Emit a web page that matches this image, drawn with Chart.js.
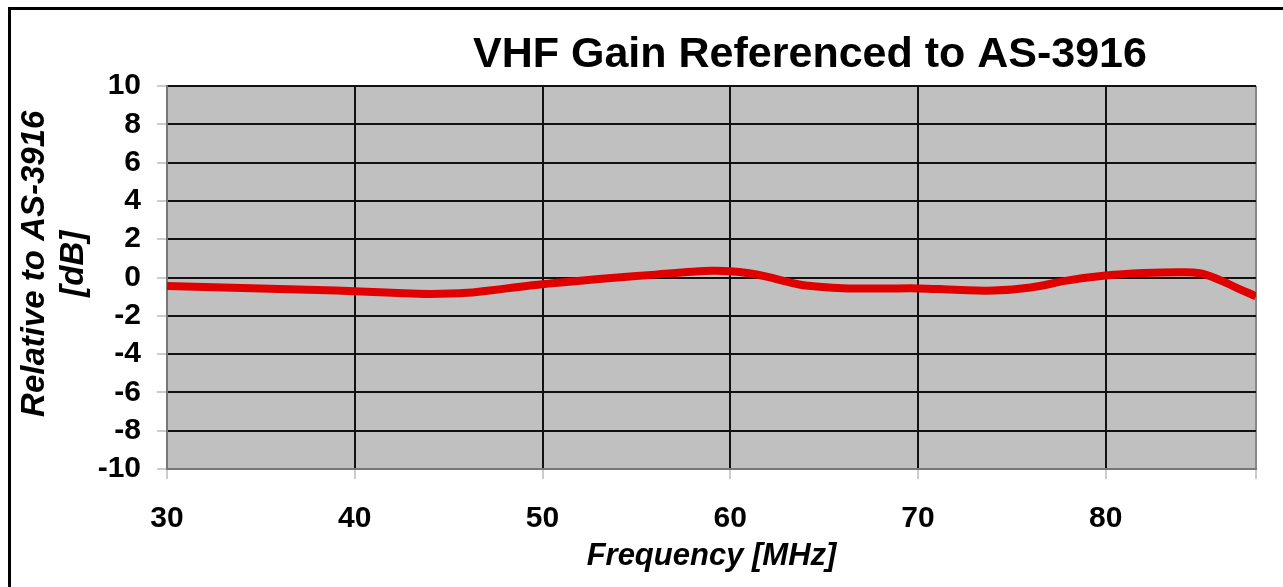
<!DOCTYPE html>
<html>
<head>
<meta charset="utf-8">
<script src="https://cdn.jsdelivr.net/npm/chart.js@4"></script>
<style>
  html, body { margin: 0; padding: 0; background: #fff; overflow: hidden; }
  #frame { position: absolute; left: 8px; top: 7px; width: 1290px; height: 600px; border: 3px solid #000; }
  #wrap { position: absolute; left: 0; top: 0; width: 1283px; height: 587px; }
</style>
</head>
<body>
<div id="frame"></div>
<div id="wrap"><canvas id="gainChart" width="1283" height="587"></canvas></div>
<script>
// frequency in MHz, gain relative to AS-3916 in dB
var freq = [30, 32, 34, 36, 38, 40, 42, 44, 46, 48, 50, 52, 54, 56, 58, 59, 60, 61, 62, 63, 64, 66, 68, 70, 72, 74, 76, 78, 80, 82, 84, 85, 86, 87, 88];
var gain = [-0.45, -0.5, -0.55, -0.6, -0.65, -0.72, -0.8, -0.86, -0.8, -0.58, -0.35, -0.17, 0.0, 0.15, 0.3, 0.35, 0.33, 0.22, 0.03, -0.22, -0.42, -0.56, -0.58, -0.57, -0.64, -0.68, -0.52, -0.15, 0.1, 0.23, 0.28, 0.22, -0.1, -0.55, -0.98];
var xTicks = [30, 40, 50, 60, 70, 80];
var chartTitle = 'VHF Gain Referenced to AS-3916';
var yTitle = ['   Relative to AS-3916', '   [dB]'];
var xTitle = 'Frequency [MHz]';

var fontFamily = '"Liberation Sans", Arial, sans-serif';

var plotBg = {
    id: 'plotBg',
    beforeDraw: function(chart) {
        var a = chart.chartArea, c = chart.ctx;
        c.save();
        c.fillStyle = '#c0c0c0';
        c.fillRect(a.left, a.top, a.right - a.left, a.bottom - a.top);
        c.restore();
    },
    afterDraw: function(chart) {
        var c = chart.ctx;
        c.save();
        c.font = 'bold 43px ' + fontFamily;
        c.fillStyle = '#000';
        c.textAlign = 'center';
        c.textBaseline = 'alphabetic';
        c.fillText(chartTitle, 810, 67);
        c.restore();
    }
};

var ctx = document.getElementById('gainChart').getContext('2d');
var gainChart = new Chart(ctx, {
    type: 'line',
    data: {
        datasets: [{
            data: freq.map(function(f, i) { return {x: f, y: gain[i]}; }),
            borderColor: '#e00000',
            borderWidth: 8,
            pointRadius: 0,
            tension: 0.4,
            fill: false
        }]
    },
    options: {
        responsive: false,
        animation: false,
        layout: { padding: { left: 0, top: 86, right: 27, bottom: 0 } },
        plugins: { legend: { display: false }, tooltip: { enabled: false } },
        scales: {
            x: {
                type: 'linear',
                min: 30,
                max: 88,
                afterFit: function(s) { s.height = 118; },
                ticks: {
                    stepSize: 10,
                    padding: 22,
                    autoSkip: false,
                    maxRotation: 0,
                    color: '#000',
                    font: { family: fontFamily, size: 30, weight: 'bold' },
                    callback: function(v) { return xTicks.indexOf(v) >= 0 ? v : ''; }
                },
                grid: {
                    color: function(c) { return c.tick && c.tick.value === 88 ? '#888' : '#111'; },
                    lineWidth: 2, tickLength: 10, tickColor: '#999', tickWidth: 1
                },
                border: { color: '#777', width: 2 },
                title: {
                    display: true,
                    text: xTitle,
                    color: '#000',
                    font: { family: fontFamily, size: 31, weight: 'bold', style: 'italic' },
                    padding: { top: 0, bottom: 12 }
                }
            },
            y: {
                min: -10,
                max: 10,
                afterFit: function(s) { s.width = 167; },
                ticks: {
                    stepSize: 2,
                    padding: 16,
                    autoSkip: false,
                    color: '#000',
                    font: { family: fontFamily, size: 30, weight: 'bold', lineHeight: 1 }
                },
                grid: { color: '#111', lineWidth: 2, tickLength: 10, tickColor: '#999', tickWidth: 1 },
                border: { color: '#777', width: 2 },
                title: {
                    display: true,
                    text: yTitle,
                    color: '#000',
                    font: { family: fontFamily, size: 33, weight: 'bold', style: 'italic' },
                    padding: { top: 15, bottom: 0 }
                }
            }
        }
    },
    plugins: [plotBg]
});
</script>
</body>
</html>
